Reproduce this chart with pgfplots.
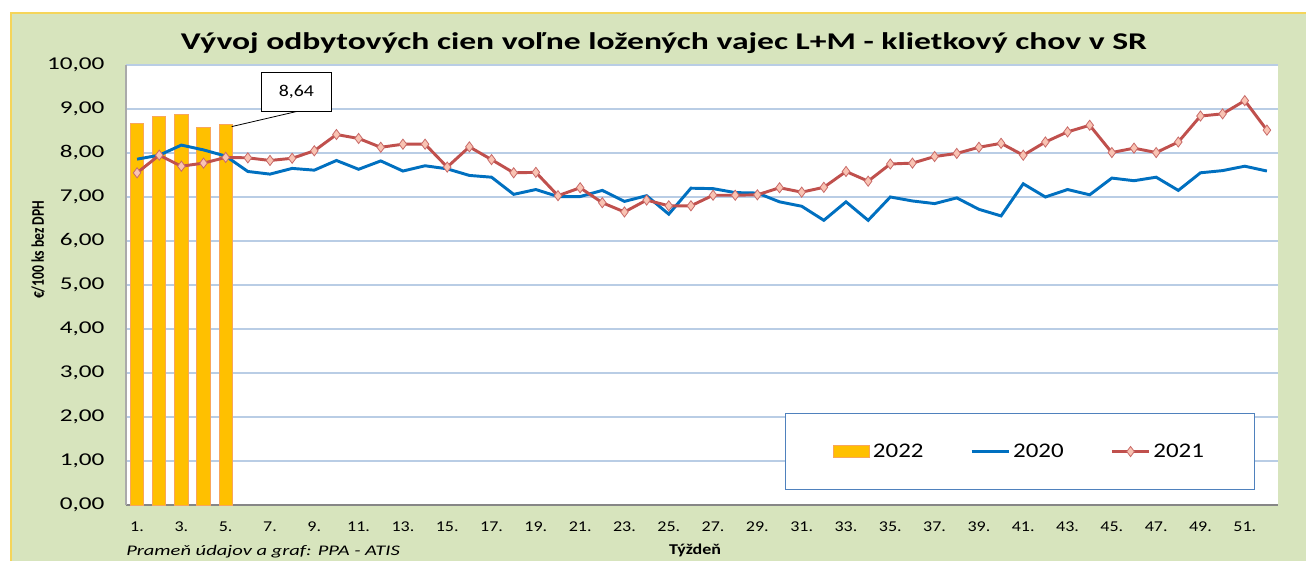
\documentclass[border=0pt]{standalone}
\usepackage{fontspec}
\setmainfont{Carlito}[FakeStretch=1.2]
\newfontfamily\plainfont{Carlito}
\newfontfamily\widefont{Carlito}[FakeStretch=1.4]
\usepackage{graphicx}
\usepackage{pgfplots}
\pgfplotsset{compat=1.18}
\definecolor{bg}{HTML}{D7E4BD}
\definecolor{frameyel}{HTML}{F5D55A}
\definecolor{gridc}{HTML}{B9CDE5}
\definecolor{axgray}{HTML}{868686}
\definecolor{bar22}{HTML}{FFC000}
\definecolor{baredge}{HTML}{F9A65A}
\definecolor{c20}{HTML}{0070C0}
\definecolor{c21}{HTML}{C0504D}
\definecolor{mk21}{HTML}{F9C3B3}
\definecolor{legbox}{HTML}{4F81BD}

\pgfplotsset{
  barleg/.style={legend image code/.code={\draw[##1] (0pt,-4.5pt) rectangle (27pt,4.5pt);}},
  lineleg/.style={legend image code/.code={\draw[##1] (0pt,0pt) -- (28pt,0pt);}},
  markleg/.style={legend image code/.code={\draw[##1, mark repeat=2, mark phase=2]
    plot coordinates {(0pt,0pt) (14pt,0pt) (28pt,0pt)};}},
}

\begin{document}
\begin{tikzpicture}[x=0.75pt,y=0.75pt]
\useasboundingbox (0,0) rectangle (1306,561);
\fill[bg] (11,0) rectangle (1306,548);
\draw[frameyel, line width=1.5pt] (11,0) -- (11,548) -- (1306,548);
\node[font=\widefont\bfseries\fontsize{18}{21}\selectfont, anchor=base, inner sep=0]
  at (664,511) {Vývoj odbytových cien voľne ložených vajec L+M - klietkový chov v SR};
\node[font=\widefont\itshape\fontsize{11}{13}\selectfont, anchor=base west, inner sep=0]
  at (126,6) {Prameň údajov a graf: PPA - ATIS};

\begin{axis}[
  at={(94.5pt,42pt)}, anchor=south west,
  scale only axis, width=864pt, height=330pt,
  axis background/.style={fill=white},
  xmin=0.5, xmax=52.5, ymin=0, ymax=10,
  axis x line*=bottom, axis y line*=left,
  x axis line style={axgray, line width=0.8pt, -},
  y axis line style={axgray!70, line width=0.8pt, -},
  major tick length=0pt,
  xtick={1,3,...,51},
  xticklabels={1.,3.,5.,7.,9.,11.,13.,15.,17.,19.,21.,23.,25.,27.,29.,31.,33.,35.,37.,39.,41.,43.,45.,47.,49.,51.},
  ytick={0,1,...,10},
  ymajorgrids, grid style={gridc, line width=0.8pt},
  xticklabel style={font=\fontsize{11.25}{13}\selectfont, anchor=north, inner sep=0pt, yshift=-12.5pt},
  yticklabel style={font=\widefont\fontsize{13.5}{16}\selectfont, anchor=east, inner sep=0pt, xshift=-16pt,
    /pgf/number format/.cd, fixed, fixed zerofill, precision=2, use comma, assume math mode=true},
  xlabel={Týždeň},
  xlabel style={at={(axis description cs:0.494,-0.1136)}, anchor=base,
    font=\bfseries\fontsize{11.25}{13}\selectfont, inner sep=0pt},
  ylabel={\scalebox{1}[1.3]{€/100 ks bez DPH}},
  ylabel style={at={(axis description cs:-0.0764,0.58)}, anchor=center,
    font=\plainfont\bfseries\fontsize{10.2}{12}\selectfont},
  legend columns=3,
  legend style={at={(0.572,0.21)}, anchor=north west, draw=legbox, line width=0.8pt,
    fill=white, inner xsep=36pt, inner ysep=21pt,
    font=\fontsize{15.6}{18}\selectfont,
    /tikz/every even column/.append style={column sep=33pt}},
  clip=false,
]
\addplot[ybar, bar width=10pt, fill=bar22, draw=baredge, line width=0.6pt, barleg]
  coordinates {(1,8.67) (2,8.84) (3,8.88) (4,8.58) (5,8.64)};
\addlegendentry{2022}

\addplot[c20, line width=2.2pt, no marks, lineleg]
  coordinates {
  (1,7.86) (2,7.95) (3,8.18) (4,8.07) (5,7.93) (6,7.58) (7,7.52) (8,7.65)
  (9,7.61) (10,7.83) (11,7.63) (12,7.82) (13,7.59) (14,7.71) (15,7.64) (16,7.49)
  (17,7.45) (18,7.06) (19,7.17) (20,7.01) (21,7.01) (22,7.15) (23,6.90) (24,7.03)
  (25,6.61) (26,7.20) (27,7.19) (28,7.10) (29,7.09) (30,6.89) (31,6.79) (32,6.47)
  (33,6.89) (34,6.47) (35,7.00) (36,6.91) (37,6.85) (38,6.98) (39,6.72) (40,6.57)
  (41,7.30) (42,7.00) (43,7.17) (44,7.05) (45,7.43) (46,7.37) (47,7.45) (48,7.15)
  (49,7.55) (50,7.60) (51,7.70) (52,7.59)};
\addlegendentry{2020}

\addplot[c21, line width=2.2pt, mark=diamond*, mark size=3.8pt,
  mark options={fill=mk21, draw=c21!85, line width=0.6pt}, markleg]
  coordinates {
  (1,7.55) (2,7.95) (3,7.70) (4,7.77) (5,7.90) (6,7.89) (7,7.83) (8,7.88)
  (9,8.05) (10,8.42) (11,8.33) (12,8.13) (13,8.20) (14,8.20) (15,7.68) (16,8.14)
  (17,7.85) (18,7.55) (19,7.56) (20,7.03) (21,7.21) (22,6.87) (23,6.66) (24,6.93)
  (25,6.80) (26,6.80) (27,7.04) (28,7.04) (29,7.05) (30,7.21) (31,7.11) (32,7.22)
  (33,7.58) (34,7.36) (35,7.75) (36,7.77) (37,7.92) (38,7.99) (39,8.13) (40,8.22)
  (41,7.95) (42,8.25) (43,8.48) (44,8.63) (45,8.01) (46,8.11) (47,8.01) (48,8.25)
  (49,8.84) (50,8.89) (51,9.19) (52,8.52)};
\addlegendentry{2021}

\node[draw=black, fill=white, line width=0.6pt, minimum width=52.5pt, minimum height=29pt,
  inner sep=0pt, font=\fontsize{12.4}{14}\selectfont] (lbl) at (axis cs:8.19,9.39) {8,64};
\draw[black, line width=0.6pt] (lbl.south) -- (axis cs:5.27,8.6);
\end{axis}
\end{tikzpicture}
\end{document}
